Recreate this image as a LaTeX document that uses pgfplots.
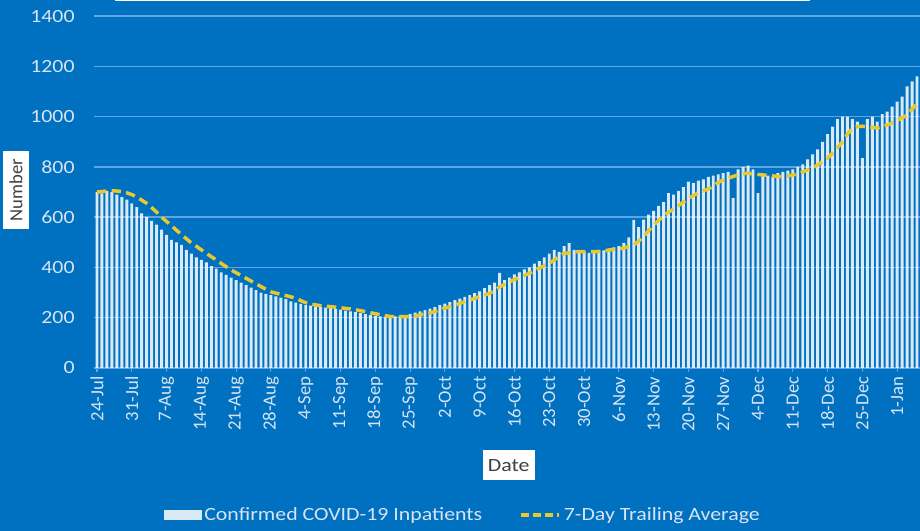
\documentclass[border=0pt]{standalone}
\usepackage{fontspec}
\setmainfont{Carlito}
\newfontfamily\wfont{Carlito}[FakeStretch=1.17]
\usepackage{pgfplots}
\usepackage{pgfplotstable}
\pgfplotsset{compat=1.18}
\definecolor{bgblue}{RGB}{0,112,192}
\definecolor{gridc}{RGB}{95,165,228}
\definecolor{tickc}{RGB}{215,228,242}
\definecolor{avgc}{RGB}{232,200,45}
\definecolor{labc}{RGB}{64,64,64}
\pgfplotstableread{
day bar avg
0 700 700
1 695 702
2 705 704
3 700 705
4 690 704
5 680 702
6 670 697
7 655 690
8 640 680
9 615 668
10 600 655
11 585 638
12 570 620
13 550 600
14 530 583
15 510 566
16 500 548
17 490 531
18 470 514
19 455 497
20 440 484
21 430 470
22 420 456
23 405 443
24 395 430
25 380 416
26 370 403
27 360 390
28 350 379
29 340 368
30 330 357
31 320 346
32 310 335
33 300 324
34 295 313
35 290 303
36 285 298
37 280 293
38 275 288
39 265 283
40 260 278
41 255 268
42 250 260
43 248 254
44 245 251
45 243 248
46 240 246
47 238 244
48 235 242
49 232 240
50 228 237
51 225 235
52 222 232
53 218 228
54 214 224
55 210 220
56 207 216
57 205 212
58 203 208
59 202 205
60 205 204
61 208 204
62 210 204
63 214 204
64 220 207
65 225 211
66 230 215
67 236 219
68 242 225
69 250 232
70 256 238
71 262 244
72 270 251
73 276 257
74 283 264
75 290 270
76 298 277
77 305 284
78 318 290
79 330 297
80 340 309
81 378 322
82 350 333
83 360 343
84 372 352
85 380 360
86 392 368
87 400 377
88 415 387
89 425 397
90 440 407
91 455 417
92 470 430
93 462 443
94 485 456
95 497 458
96 470 461
97 460 463
98 465 463
99 458 463
100 462 463
101 470 463
102 468 466
103 475 469
104 480 472
105 485 475
106 498 477
107 520 483
108 589 489
109 560 505
110 590 522
111 610 547
112 625 568
113 645 587
114 660 606
115 696 620
116 690 632
117 705 646
118 720 660
119 741 675
120 735 686
121 745 697
122 750 705
123 760 712
124 765 725
125 770 738
126 775 748
127 780 755
128 676 762
129 790 768
130 800 773
131 805 775
132 790 772
133 696 770
134 770 768
135 765 766
136 760 764
137 775 762
138 780 761
139 785 764
140 790 768
141 800 773
142 810 780
143 830 788
144 850 795
145 870 808
146 900 822
147 930 835
148 960 855
149 990 877
150 1000 900
151 1000 930
152 990 955
153 980 960
154 835 962
155 990 960
156 1000 957
157 980 955
158 1010 960
159 1020 966
160 1040 975
161 1060 985
162 1080 995
163 1120 1006
164 1140 1030
165 1160 1050
}\data
\begin{document}
\begin{tikzpicture}[x=0.75pt,y=0.75pt]
\fill[bgblue] (0,0) rectangle (920,531);
\useasboundingbox (0,0) rectangle (920,531);
\begin{axis}[
  at={(70.5pt,122.25pt)}, anchor=south west,
  scale only axis, width=619.5pt, height=276pt,
  xmin=-0.6, xmax=165.6, ymin=0, ymax=1464,
  axis lines*=left,
  y axis line style={draw=none},
  x axis line style={draw=gridc, line width=1pt},
  ytick={0,200,...,1400},
  ymajorgrids, grid style={draw=gridc, line width=1.1pt},
  ytick style={draw=none},
  xtick={0,7,...,161},
  xticklabels={24-Jul,31-Jul,7-Aug,14-Aug,21-Aug,28-Aug,4-Sep,11-Sep,18-Sep,25-Sep,2-Oct,9-Oct,16-Oct,23-Oct,30-Oct,6-Nov,13-Nov,20-Nov,27-Nov,4-Dec,11-Dec,18-Dec,25-Dec,1-Jan},
  tick align=outside, major tick length=3pt,
  xtick style={draw=gridc, line width=0.8pt},
  x tick label style={rotate=90, anchor=east, font=\fontsize{14}{16}\selectfont, text=tickc},
  y tick label style={font=\wfont\fontsize{14}{16}\selectfont, text=tickc, xshift=-8pt},
  yticklabel style={/pgf/number format/1000 sep={}},
  /pgf/number format/assume math mode=true,
  xlabel={Date},
  xlabel style={at={(axis description cs:0.502,-0.264)}, anchor=center, fill=white, text=labc, font=\wfont\fontsize{14}{16}\selectfont, inner xsep=4pt, inner ysep=5pt, minimum height=23pt},
  ylabel={Number},
  ylabel style={at={(axis description cs:-0.0944,0.484)}, anchor=center, rotate=0, fill=white, text=labc, font=\fontsize{14}{16}\selectfont, inner xsep=6pt, inner ysep=5pt},
  legend style={at={(0.4468,-0.40)}, anchor=center, draw=none, fill=none, text=tickc, font=\wfont\fontsize{14}{16}\selectfont, legend columns=2, /tikz/every even column/.append style={column sep=26pt}},
  clip=false,
]
\addplot[ybar, bar width=2.2pt, fill=white, draw=none, fill opacity=0.85,
  legend image code/.code={\fill[white] (0pt,-3.5pt) rectangle (28.5pt,4pt);}]
  table[x=day, y=bar] {\data};
\addlegendentry{Confirmed COVID-19 Inpatients}
\addplot[avgc, line width=2.6pt, dash pattern=on 7pt off 4pt,
  legend image code/.code={\draw[avgc, line width=2.6pt, dash pattern=on 6pt off 3pt] (0pt,0pt) -- (28.5pt,0pt);}]
  table[x=day, y=avg] {\data};
\addlegendentry{7-Day Trailing Average}
\end{axis}
\draw[white, line width=1.2pt] (115,530.5) -- (810,530.5);
\end{tikzpicture}
\end{document}
